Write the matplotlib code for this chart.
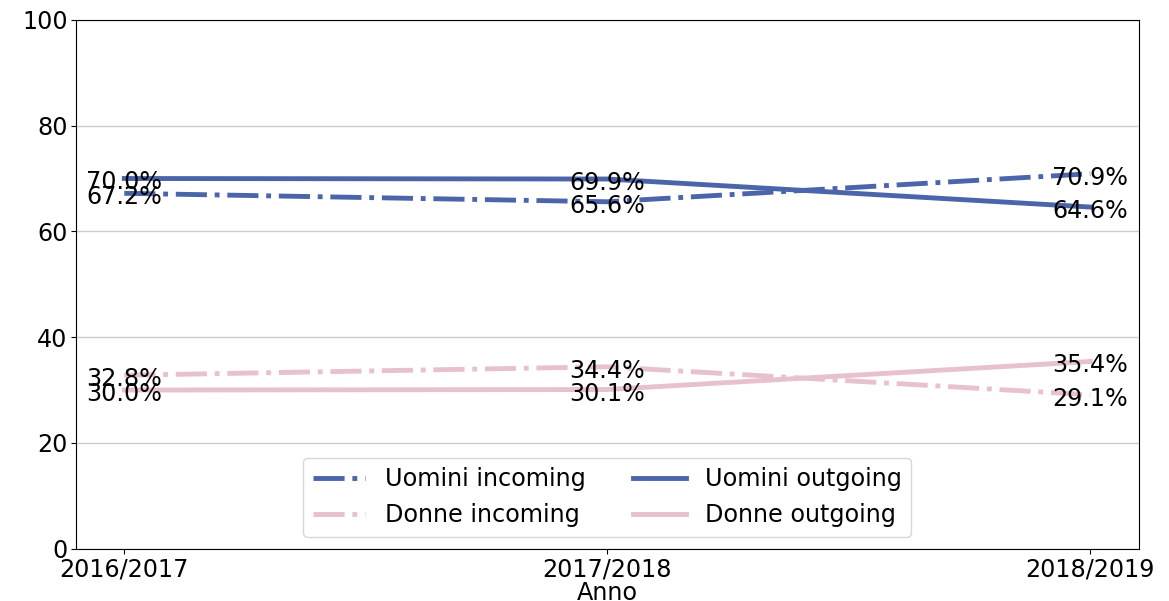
import matplotlib; matplotlib.use('Agg')
import numpy as np
from matplotlib import pyplot as plt

years = ['2016/2017', '2017/2018', '2018/2019']
uomini_in = [67.2, 65.6, 70.9]
uomini_out = [70.0, 69.9, 64.6]
donne_in = [32.8, 34.4, 29.1]
donne_out = [30.0, 30.1, 35.4]

BLUE = '#4a65a9'
PINK = '#e8c1ce'
FS = 17.2

fig = plt.figure(figsize=(11.69, 6.01), dpi=100)
ax = fig.add_axes([0.065, 0.087, 0.909, 0.880])

x = np.arange(len(years))
series = [
    (uomini_in, BLUE, '-.', 'Uomini incoming'),
    (donne_in, PINK, '-.', 'Donne incoming'),
    (uomini_out, BLUE, '-', 'Uomini outgoing'),
    (donne_out, PINK, '-', 'Donne outgoing'),
]
for vals, col, ls, lab in series:
    ax.plot(x, vals, color=col, linestyle=ls, linewidth=3.5, label=lab)
    for xi, v in zip(x, vals):
        ax.annotate('%.1f%%' % v, (xi, v), xytext=(0, -4),
                    textcoords='offset pixels', ha='center', va='center',
                    fontsize=FS, color='black')

ax.set_ylim(0, 100)
ax.set_yticks([0, 20, 40, 60, 80, 100])
ax.set_xticks(x)
ax.set_xticklabels(years)
ax.tick_params(labelsize=FS, pad=2.5)
ax.set_xlabel('Anno', fontsize=FS, labelpad=0)
ax.yaxis.grid(True, color='#cccccc', linewidth=1)
ax.set_axisbelow(True)

leg = ax.legend(loc='lower center', ncol=2, fontsize=FS, handlelength=2.2)

plt.savefig('out.png', dpi=100)
plt.close()
